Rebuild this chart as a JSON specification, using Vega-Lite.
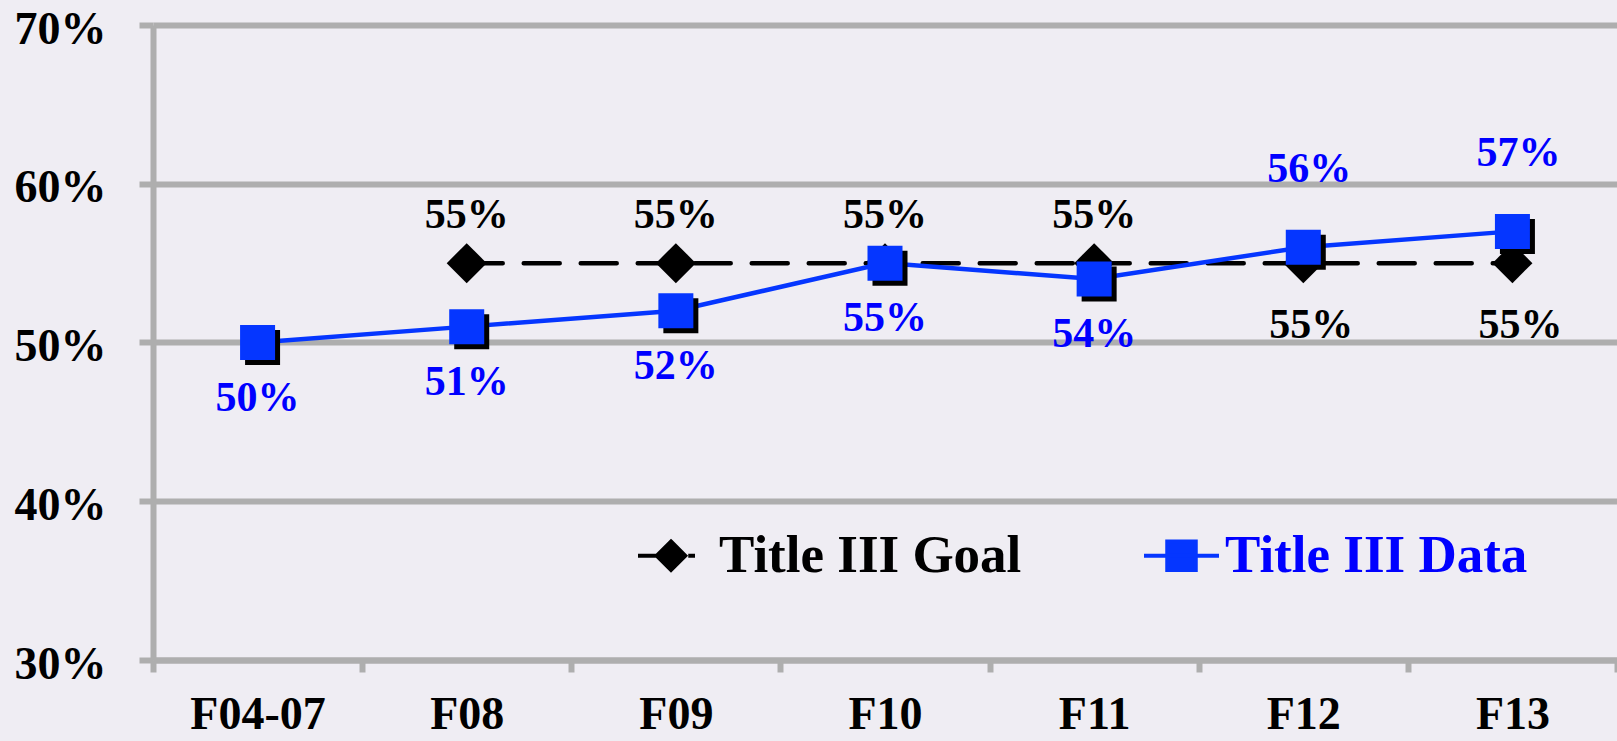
{
  "$schema": "https://vega.github.io/schema/vega-lite/v6.json",
  "autosize": {"type": "none"},
  "padding": {"left": 153, "top": 25, "right": 0, "bottom": 81},
  "width": 1464,
  "height": 635,
  "background": "#efedf3",
  "config": {
    "view": {"stroke": null},
    "font": "Liberation Serif",
    "axis": {
      "domainColor": "#aeaeae", "domainWidth": 6,
      "tickColor": "#aeaeae", "tickWidth": 6,
      "gridColor": "#aeaeae", "gridWidth": 6,
      "labelFont": "Liberation Serif", "labelFontWeight": "bold", "labelColor": "#000000",
      "title": null
    }
  },
  "data": {
    "values": [
      {"year": "F04-07", "series": "Title III Data", "value": 0.50},
      {"year": "F08", "series": "Title III Data", "value": 0.51},
      {"year": "F09", "series": "Title III Data", "value": 0.52},
      {"year": "F10", "series": "Title III Data", "value": 0.55},
      {"year": "F11", "series": "Title III Data", "value": 0.54},
      {"year": "F12", "series": "Title III Data", "value": 0.56},
      {"year": "F13", "series": "Title III Data", "value": 0.57},
      {"year": "F08", "series": "Title III Goal", "value": 0.55},
      {"year": "F09", "series": "Title III Goal", "value": 0.55},
      {"year": "F10", "series": "Title III Goal", "value": 0.55},
      {"year": "F11", "series": "Title III Goal", "value": 0.55},
      {"year": "F12", "series": "Title III Goal", "value": 0.55},
      {"year": "F13", "series": "Title III Goal", "value": 0.55}
    ]
  },
  "encoding": {
    "x": {
      "field": "year", "type": "ordinal",
      "sort": ["F04-07", "F08", "F09", "F10", "F11", "F12", "F13"],
      "scale": {"type": "band", "paddingInner": 0, "paddingOuter": 0},
      "axis": {
        "labelAngle": 0, "labelFontSize": 46, "tickSize": 12, "labelPadding": 20,
        "tickBand": "extent", "grid": false, "labelBaseline": "top"
      }
    },
    "y": {
      "field": "value", "type": "quantitative",
      "scale": {"domain": [0.3, 0.7], "nice": false, "zero": false},
      "axis": {
        "values": [0.3, 0.4, 0.5, 0.6, 0.7], "format": ".0%",
        "labelFontSize": 46, "tickSize": 14, "labelPadding": 33, "labelOffset": 4,
        "grid": true
      }
    }
  },
  "layer": [
    {
      "transform": [{"filter": "datum.series === 'Title III Goal'"}],
      "mark": {"type": "line", "strokeWidth": 4.5, "strokeDash": [36, 21], "strokeCap": "round"},
      "encoding": {
        "color": {
          "field": "series", "type": "nominal",
          "scale": {"domain": ["Title III Goal", "Title III Data"], "range": ["#000000", "#0536ff"]},
          "legend": {
            "orient": "none", "legendX": 483, "legendY": 491, "direction": "horizontal",
            "title": null, "padding": 0,
            "symbolType": "M-1,0H-0.48M0.32,0H0.5M-0.12,-0.38L0.26,0L-0.12,0.38L-0.5,0Z",
            "symbolSize": 5625, "symbolStrokeWidth": 4,
            "labelFont": "Liberation Serif", "labelFontWeight": "bold", "labelFontSize": 53,
            "labelOffset": 4, "columnPadding": 114, "labelLimit": 800,
            "encode": {
              "symbols": {
                "update": {
                  "shape": {"signal": "datum.value === 'Title III Goal' ? 'M-1,0H-0.5M0.34,0H0.52M-0.12,-0.38L0.26,0L-0.12,0.38L-0.5,0Z' : 'M-1,0H1M-0.38,-0.38H0.38V0.38H-0.38Z'"},
                  "fill": {"signal": "datum.value === 'Title III Goal' ? '#000000' : '#0536ff'"},
                  "stroke": {"signal": "datum.value === 'Title III Goal' ? '#000000' : '#0536ff'"},
                  "fillOpacity": {"value": 1},
                  "strokeWidth": {"value": 4},
                  "opacity": {"value": 1}
                }
              },
              "labels": {
                "update": {
                  "fill": {"signal": "datum.value === 'Title III Goal' ? '#000000' : '#0000ff'"}
                }
              }
            }
          }
        }
      }
    },
    {
      "transform": [{"filter": "datum.series === 'Title III Goal'"}],
      "mark": {"type": "point", "shape": "diamond", "filled": true, "size": 1600, "color": "#000000", "opacity": 1},
      "encoding": {}
    },
    {
      "transform": [{"filter": "datum.series === 'Title III Data'"}],
      "mark": {"type": "line", "strokeWidth": 4.5},
      "encoding": {
        "color": {"field": "series", "type": "nominal"}
      }
    },
    {
      "transform": [{"filter": "datum.series === 'Title III Data'"}],
      "mark": {"type": "point", "shape": "square", "filled": true, "size": 1225, "color": "#000000", "opacity": 1, "xOffset": 5, "yOffset": 5},
      "encoding": {}
    },
    {
      "transform": [{"filter": "datum.series === 'Title III Data'"}],
      "mark": {"type": "point", "shape": "square", "filled": true, "size": 1225, "color": "#0536ff", "opacity": 1},
      "encoding": {}
    },
    {
      "transform": [{"filter": "datum.series === 'Title III Goal' && datum.year !== 'F12' && datum.year !== 'F13'"}],
      "mark": {"type": "text", "font": "Liberation Serif", "fontWeight": "bold", "fontSize": 42, "color": "#000000", "baseline": "middle", "dy": -48},
      "encoding": {"text": {"field": "value", "type": "quantitative", "format": ".0%"}}
    },
    {
      "transform": [{"filter": "datum.series === 'Title III Goal' && (datum.year === 'F12' || datum.year === 'F13')"}],
      "mark": {"type": "text", "font": "Liberation Serif", "fontWeight": "bold", "fontSize": 42, "color": "#000000", "baseline": "middle", "dy": 62, "dx": 8},
      "encoding": {"text": {"field": "value", "type": "quantitative", "format": ".0%"}}
    },
    {
      "transform": [{"filter": "datum.series === 'Title III Data' && datum.year !== 'F12' && datum.year !== 'F13'"}],
      "mark": {"type": "text", "font": "Liberation Serif", "fontWeight": "bold", "fontSize": 42, "color": "#0000ff", "baseline": "middle", "dy": 55},
      "encoding": {"text": {"field": "value", "type": "quantitative", "format": ".0%"}}
    },
    {
      "transform": [{"filter": "datum.series === 'Title III Data' && (datum.year === 'F12' || datum.year === 'F13')"}],
      "mark": {"type": "text", "font": "Liberation Serif", "fontWeight": "bold", "fontSize": 42, "color": "#0000ff", "baseline": "middle", "dy": -78, "dx": 6},
      "encoding": {"text": {"field": "value", "type": "quantitative", "format": ".0%"}}
    }
  ]
}
